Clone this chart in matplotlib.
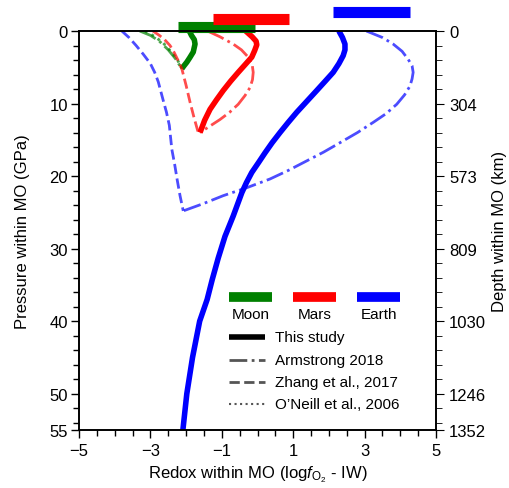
import matplotlib
matplotlib.use("Agg")
import matplotlib.pyplot as plt
from matplotlib.ticker import MultipleLocator

plt.rcParams['font.family'] = ['Liberation Sans', 'DejaVu Sans']
plt.rcParams['mathtext.fontset'] = 'custom'
plt.rcParams['mathtext.it'] = 'Liberation Sans:italic'
plt.rcParams['mathtext.rm'] = 'Liberation Sans'

# ---- data (redox, pressure in GPa) ----
moon_this_x = [-1.91, -1.85, -1.77, -1.75, -1.80, -1.90, -1.98, -2.06, -2.12]
moon_this_p = [0, 0.6, 1.2, 1.8, 2.9, 3.7, 4.3, 4.8, 5.2]
moon_arm_x = [-3.3, -3.0, -2.75, -2.5, -2.3, -2.12]
moon_arm_p = [0, 0.6, 1.4, 2.6, 3.8, 5.2]
moon_oneill_x = [-3.15, -2.9, -2.65, -2.45, -2.25, -2.12]
moon_oneill_p = [0, 0.7, 1.6, 2.7, 3.9, 5.2]

mars_this_x = [-0.33, -0.15, -0.04, -0.02, -0.08, -0.16, -0.34, -0.54, -0.75,
               -0.96, -1.15, -1.33, -1.48, -1.61]
mars_this_p = [0, 0.8, 1.4, 1.9, 2.7, 3.6, 4.6, 5.7, 6.9,
               8.2, 9.5, 10.8, 12.3, 14.0]
mars_arm_x = [-1.40, -1.05, -0.68, -0.45, -0.26, -0.15, -0.12, -0.14, -0.21,
              -0.35, -0.54, -0.78, -1.05, -1.33, -1.61]
mars_arm_p = [0, 0.8, 1.8, 2.6, 3.6, 4.6, 5.7, 6.7, 7.8,
              8.9, 10.1, 11.2, 12.2, 13.1, 14.0]
mars_zhang_x = [-2.93, -2.75, -2.6, -2.45, -2.33, -2.22, -2.12, -2.0, -1.89, -1.78, -1.66]
mars_zhang_p = [0, 0.6, 1.2, 2.0, 3.0, 4.1, 5.2, 7.5, 9.8, 11.9, 14.0]

earth_this_x = [2.28, 2.38, 2.45, 2.45, 2.40, 2.28, 2.12, 1.90, 1.66, 1.38,
                1.10, 0.86, 0.63, 0.41, 0.21, 0.02, -0.16, -0.31, -0.44,
                -0.68, -0.91, -1.10, -1.27, -1.41, -1.62, -1.82, -1.98, -2.09]
earth_this_p = [0, 0.9, 1.8, 2.6, 3.4, 4.5, 5.7, 6.9, 8.2, 9.7,
                11.2, 12.6, 14.0, 15.4, 16.8, 18.2, 19.5, 20.9, 22.3,
                25.5, 28.3, 31.3, 34.3, 37.0, 40.0, 45.0, 50.0, 55.0]
earth_arm_x = [3.05, 3.15, 3.50, 3.80, 4.05, 4.22, 4.33, 4.36, 4.33, 4.27,
               4.12, 3.90, 3.60, 3.24, 2.80, 2.31, 1.85, 1.38, 0.87,
               0.35, -0.30, -0.96, -1.52, -2.08]
earth_arm_p = [0, 0.2, 0.9, 1.8, 2.8, 3.9, 4.8, 5.7, 6.6, 7.6,
               8.8, 10.1, 11.4, 12.6, 14.0, 15.4, 16.7, 17.9, 19.2,
               20.4, 21.6, 22.7, 23.8, 24.8]
earth_zhang_x = [-3.8, -3.6, -3.4, -3.2, -3.0, -2.88, -2.78, -2.65, -2.55, -2.47,
                 -2.4, -2.32, -2.25, -2.17, -2.08]
earth_zhang_p = [0, 0.9, 2.0, 3.2, 4.5, 5.7, 7.0, 9.4, 11.2, 13.0,
                 16.3, 18.4, 20.5, 22.7, 24.8]

# ranges of the coloured bars above the panel (redox extent, level above 0 GPa)
bar_x = {'Moon': (-2.23, -0.07), 'Mars': (-1.25, 0.88), 'Earth': (2.11, 4.27)}
bar_y = {'Moon': -0.55, 'Mars': -1.6, 'Earth': -2.6}
colors = {'Moon': 'green', 'Mars': 'red', 'Earth': 'blue'}

p_ticks = [0, 10, 20, 30, 40, 50, 55]
depth_labels = ['0', '304', '573', '809', '1030', '1246', '1352']
x_ticks = [-5, -3, -1, 1, 3, 5]

fig = plt.figure(figsize=(5.10, 4.89), dpi=100)
ax = fig.add_axes([79 / 510, 1 - 431 / 489, 357 / 510, 399 / 489])

ax.plot(moon_oneill_x, moon_oneill_p, color='green', ls=':', lw=2, alpha=0.7)
ax.plot(moon_arm_x, moon_arm_p, color='green', ls='-.', lw=2, alpha=0.7)
ax.plot(moon_this_x, moon_this_p, color='green', lw=4, solid_capstyle='butt',
        solid_joinstyle='round')

ax.plot(mars_zhang_x, mars_zhang_p, color='red', ls='--', lw=2, alpha=0.7)
ax.plot(mars_arm_x, mars_arm_p, color='red', ls='-.', lw=2, alpha=0.7)
ax.plot(mars_this_x, mars_this_p, color='red', lw=4, solid_capstyle='butt',
        solid_joinstyle='round')

ax.plot(earth_zhang_x, earth_zhang_p, color='blue', ls='--', lw=2, alpha=0.7)
ax.plot(earth_arm_x, earth_arm_p, color='blue', ls='-.', lw=2, alpha=0.7)
ax.plot(earth_this_x, earth_this_p, color='blue', lw=4, solid_capstyle='butt',
        solid_joinstyle='round')

for k in ['Moon', 'Mars', 'Earth']:
    ax.plot(bar_x[k], [bar_y[k]] * 2, color=colors[k], lw=8,
            solid_capstyle='butt', clip_on=False)

ax.set_xlim(-5, 5)
ax.set_ylim(55, 0)
ax.set_xticks(x_ticks)
ax.set_xticklabels(['\u2212' + str(-v) if v < 0 else str(v) for v in x_ticks])
ax.xaxis.set_minor_locator(MultipleLocator(0.5))
ax.set_yticks(p_ticks)
ax.yaxis.set_minor_locator(MultipleLocator(2))
ax.tick_params(which='both', direction='out', labelsize=12, width=1)
ax.tick_params(which='major', length=6)
ax.tick_params(which='minor', length=4)
ax.tick_params(axis='y', pad=2)
ax.set_xlabel('Redox within MO (log$\\mathit{f}_{\\mathrm{O_2}}$ - IW)', fontsize=12)
ax.set_ylabel('Pressure within MO (GPa)', fontsize=12, labelpad=14)

ax2 = ax.twinx()
ax2.set_ylim(55, 0)
ax2.set_yticks(p_ticks)
ax2.set_yticklabels(depth_labels)
ax2.yaxis.set_minor_locator(MultipleLocator(2))
ax2.tick_params(which='both', direction='out', labelsize=12)
ax2.tick_params(which='major', length=6)
ax2.tick_params(which='minor', length=4)
ax2.set_ylabel('Depth within MO (km)', fontsize=12, labelpad=4)

for a in (ax, ax2):
    for s in a.spines.values():
        s.set_linewidth(1.2)

# legend: colour swatches
tr = ax.transAxes
sw = [(0.42, 'Moon'), (0.60, 'Mars'), (0.78, 'Earth')]
for x0, k in sw:
    ax.plot([x0, x0 + 0.12], [0.333, 0.333], color=colors[k], lw=7,
            solid_capstyle='butt', transform=tr)
    ax.text(x0 + 0.06, 0.29, k, transform=tr, ha='center', va='center', fontsize=11)

# legend: line styles
styles = [('-', 4, 'black', 'This study'),
          ('-.', 2, '#555555', 'Armstrong 2018'),
          ('--', 2, '#555555', 'Zhang et al., 2017'),
          (':', 1.5, '#555555', "O\u2019Neill et al., 2006")]
for i, (ls, lw, c, lab) in enumerate(styles):
    yy = 0.232 - i * 0.056
    ax.plot([0.42, 0.52], [yy, yy], ls=ls, lw=lw, color=c, transform=tr,
            solid_capstyle='butt')
    ax.text(0.55, yy, lab, transform=tr, va='center', fontsize=11)

fig.savefig('out.png', dpi=100)
